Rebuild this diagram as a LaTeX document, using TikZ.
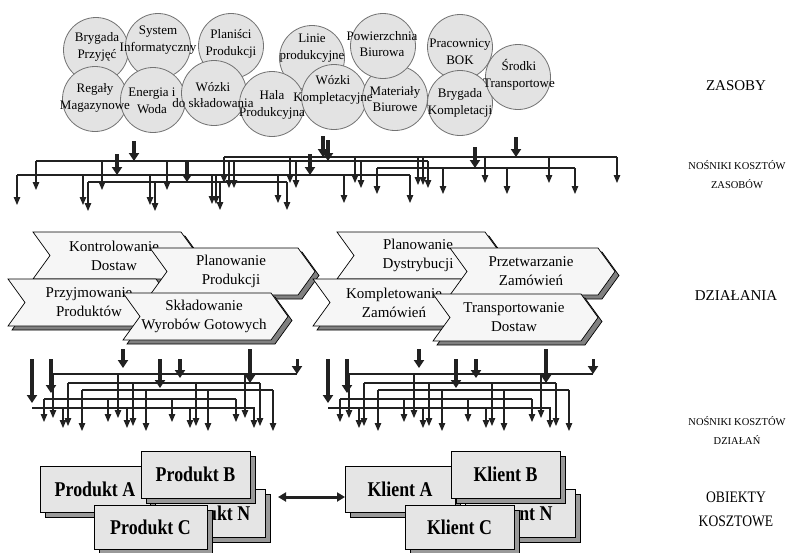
\documentclass[tikz,border=0pt]{standalone}
\usepackage{fontspec}
\setmainfont{Liberation Serif}
\newfontfamily\condserif[FakeStretch=0.85]{Liberation Serif}
\usetikzlibrary{arrows.meta}
\definecolor{circfill}{gray}{0.89}
\definecolor{circline}{gray}{0.45}
\definecolor{chevfill}{gray}{0.965}
\definecolor{shade}{gray}{0.5}
\definecolor{boxfill}{gray}{0.9}
\definecolor{ink}{gray}{0.13}
\newcommand\resbus[4]{%
  \draw[busline] (#2,#1) -- (#3,#1);
  \foreach \xx/\tt in {#4} {\draw[droparr] (\xx,#1) -- (\xx,\tt);}%
}
\newcommand\actchev[5]{%
  \pic[fill=shade, draw=black, line width=0.7pt] at ({#1+4},{#2+4}) {chevshape};
  \pic[fill=chevfill, draw=black, line width=0.7pt] at (#1,#2) {chevshape};
  \node[acttext] (#3) at ({#1+81},{#2+23.5}) {#4\\#5};
}
\newcommand\costbox[6]{%
  \filldraw[fill=shade!80, draw=black, line width=0.7pt] ({#1+5},{#2+5}) rectangle ({#3+5},{#4+5});
  \filldraw[fill=boxfill, draw=black, line width=0.7pt] (#1,#2) rectangle (#3,#4);
  \node[objtext] (#5) at ({(#1+#3)/2},{(#2+#4)/2}) {#6};
}
\begin{document}
\begin{tikzpicture}[x=1pt,y=-1pt,
  res/.style={circle, draw=circline, fill=circfill, line width=0.8pt, minimum size=65pt, inner sep=0pt},
  restext/.style={align=center, font=\fontsize{13}{16.5}\selectfont, inner sep=0pt},
  acttext/.style={align=center, font=\fontsize{15}{19}\selectfont, inner sep=0pt},
  objtext/.style={font=\condserif\bfseries\fontsize{21}{24}\selectfont, inner sep=0pt},
  lbl/.style={align=center, font=\fontsize{15}{23}\selectfont, inner sep=0pt},
  smalllbl/.style={align=center, font=\fontsize{10.5}{19}\selectfont, inner sep=0pt},
  biglbl/.style={align=center, font=\condserif\fontsize{16}{24}\selectfont, inner sep=0pt},
  busline/.style={line width=1.1pt, ink},
  droparr/.style={line width=1.1pt, ink, -{Triangle[width=6.5pt,length=8pt]}},
  bigarr/.style={line width=3.6pt, ink, -{Triangle[width=10pt,length=8pt]}},
  dblarr/.style={line width=3pt, ink, {Triangle[width=9pt,length=8pt]}-{Triangle[width=9pt,length=8pt]}},
  chevshape/.pic={\path[pic actions] (0,0) -- (148,0) -- (165,23.5) -- (148,47) -- (0,47) -- (17,23.5) -- cycle;}
]
\useasboundingbox (0,0) rectangle (787,552);
\fill[white] (0,0) rectangle (787,552);

% ---------- ZASOBY (resources) ----------
\node[res] (c-brygp) at (96,50) {};
\node[res] (c-system) at (158,46) {};
\node[res] (c-planisci) at (231,46) {};
\node[res] (c-linie) at (312,58) {};
\node[res] (c-pracown) at (460,47) {};
\node[res] (c-regaly) at (95,99) {};
\node[res] (c-energia) at (153,100) {};
\node[res] (c-wozki) at (214,93) {};
\node[res] (c-hala) at (272,104) {};
\node[res] (c-wozkik) at (334,97) {};
\node[res] (c-material) at (395,98) {};
\node[res] (c-powierz) at (383,46) {};
\node[res] (c-brygk) at (460,103) {};
\node[res] (c-srodki) at (518,77) {};

\node[restext] (t-brygp) at (97,47) {Brygada\\Przyjęć};
\node[restext] (t-system) at (158,40) {System\\Informatyczny};
\node[restext] (t-planisci) at (231,44) {Planiści\\Produkcji};
\node[restext] (t-linie) at (312,48) {Linie\\produkcyjne};
\node[restext] (t-powierz) at (382,44) {Powierzchnia\\Biurowa};
\node[restext] (t-pracown) at (460,52) {Pracownicy\\BOK};
\node[restext] (t-regaly) at (95,98) {Regały\\Magazynowe};
\node[restext] (t-energia) at (152,101) {Energia i\\Woda};
\node[restext] (t-wozki) at (213,95) {Wózki\\do składowania};
\node[restext] (t-hala) at (272,105) {Hala\\Produkcyjna};
\node[restext] (t-wozkik) at (333,90) {Wózki\\Kompletacyjne};
\node[restext] (t-material) at (395,99) {Materiały\\Biurowe};
\node[restext] (t-brygk) at (460,103) {Brygada\\Kompletacji};
\node[restext] (t-srodki) at (519,75) {Środki\\Transportowe};

% ---------- resource cost drivers ----------
\resbus{157}{224}{617}{224/183,290/183,355/183,418/185,423/185,485/183,549/183,617/183}
\resbus{161}{36}{428}{36/190,102/190,167/190,229/188,234/188,296/188,361/188,428/188}
\resbus{168}{377}{575}{377/194,443/194,507/194,575/194}
\resbus{175}{17}{410}{17/205,83/205,150/205,212/204,216/204,278/203,344/203,410/203}
\resbus{182}{88}{287}{88/211,155/211,220/210,287/210}
\foreach \xx/\ya/\yb in {134/141/161,323/136/157,328/140/161,516/137/157,475/147/168,117/154/175,310/154/175,187/162/182}
  {\draw[bigarr] (\xx,\ya) -- (\xx,\yb);}

% ---------- DZIAŁANIA (activities) ----------
\actchev{33}{232}{a-kontrol}{Kontrolowanie}{Dostaw}
\actchev{8}{279}{a-przyjm}{Przyjmowanie}{Produktów}
\actchev{150}{248}{a-planprod}{Planowanie}{Produkcji}
\actchev{123}{293}{a-sklad}{Składowanie}{Wyrobów Gotowych}
\actchev{337}{232}{a-plandys}{Planowanie}{Dystrybucji}
\actchev{313}{279}{a-komplet}{Kompletowanie}{Zamówień}
\actchev{450}{248}{a-przetw}{Przetwarzanie}{Zamówień}
\actchev{433}{294}{a-transp}{Transportowanie}{Dostaw}

% ---------- activity cost drivers ----------
\foreach \off in {0,296}{
\begin{scope}[xshift=\off pt]
  \resbus{374}{53}{297}{53/418,118/418,245/418}
  \resbus{383}{68}{260}{68/426,133/426,196/426,260/426}
  \resbus{390}{82}{273}{82/431,146/431,208/431,273/431}
  \resbus{399}{44}{236}{44/422,108/422,172/422,236/422}
  \resbus{408}{32}{255}{63/428,127/428,190/428,254/428}
  \foreach \xx/\ya/\yb in {32/359/403,51/359/393,123/349/368,160/359/388,180/359/378,250/349/383}
    {\draw[bigarr] (\xx,\ya) -- (\xx,\yb);}
  \draw[bigarr, line width=3pt] (297,359) -- (297,374);
\end{scope}
}

% ---------- OBIEKTY KOSZTOWE ----------
\costbox{40}{466}{150}{512}{o-pa}{Produkt A}
\costbox{155}{489}{265}{537}{o-pn}{Produkt N}
\costbox{141}{451}{250}{498}{o-pb}{Produkt B}
\costbox{94}{505}{207}{549}{o-pc}{Produkt C}
\costbox{345}{466}{455}{512}{o-ka}{Klient A}
\costbox{465}{489}{575}{537}{o-kn}{Klient N}
\costbox{451}{451}{560}{498}{o-kb}{Klient B}
\costbox{405}{505}{514}{549}{o-kc}{Klient C}
\coordinate (link-l) at (278,497);
\coordinate (link-r) at (345,497);
\draw[dblarr] (link-l) -- (link-r);

% ---------- level labels ----------
\node[lbl] (l-zasoby) at (736,86) {ZASOBY};
\node[smalllbl] (l-nz) at (737,175) {NOŚNIKI KOSZTÓW\\ZASOBÓW};
\node[lbl] (l-dzial) at (736,296) {DZIAŁANIA};
\node[smalllbl] (l-nd) at (737,430) {NOŚNIKI KOSZTÓW\\DZIAŁAŃ};
\node[biglbl] (l-obj) at (736,509) {OBIEKTY\\KOSZTOWE};
\end{tikzpicture}
\end{document}
